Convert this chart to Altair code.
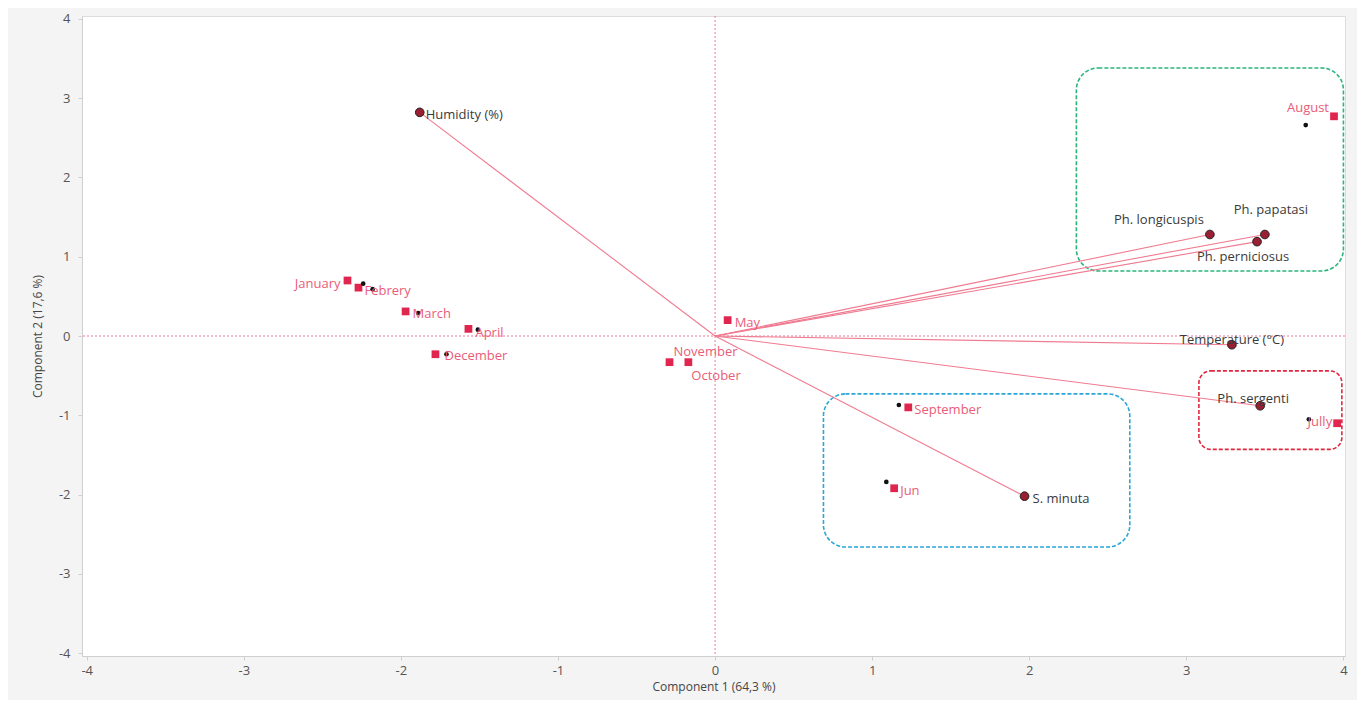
import altair as alt
import pandas as pd

# ---- data ----
var_names = ["Humidity (%)", "Ph. longicuspis", "Ph. papatasi", "Ph. perniciosus",
             "Temperature (°C)", "Ph. sergenti", "S. minuta"]
var_x = [-1.88, 3.15, 3.50, 3.45, 3.29, 3.47, 1.97]
var_y = [2.82, 1.28, 1.28, 1.19, -0.11, -0.88, -2.02]

month_names = ["January", "Febrery", "March", "April", "May", "Jun", "Jully",
               "August", "September", "October", "November", "December"]
month_x = [-2.34, -2.27, -1.97, -1.57, 0.08, 1.14, 3.96, 3.94, 1.23, -0.17, -0.29, -1.78]
month_y = [0.70, 0.61, 0.31, 0.09, 0.20, -1.92, -1.10, 2.77, -0.90, -0.33, -0.33, -0.23]

dot_names = ["January", "Febrery", "March", "April", "December", "September", "Jun", "August", "Jully"]
dot_x = [-2.24, -2.18, -1.89, -1.51, -1.71, 1.17, 1.09, 3.76, 3.78]
dot_y = [0.66, 0.59, 0.29, 0.08, -0.23, -0.87, -1.84, 2.66, -1.05]

box_names = ["green", "blue", "red"]
box_x0 = [2.30, 0.69, 3.08]
box_x1 = [4.00, 2.64, 3.99]
box_y0 = [0.82, -2.66, -1.43]
box_y1 = [3.38, -0.73, -0.44]

x_ticks = [-4, -3, -2, -1, 0, 1, 2, 3, 4]
y_ticks = [-4, -3, -2, -1, 0, 1, 2, 3, 4]

# ---- styles ----
FONT = "Open Sans"
box_style = {"green": ("#2bb57c", 22), "blue": ("#2aa7d8", 22), "red": ("#e0283f", 12)}
# label placement: align, dx, dy (pixels)
label_place = {
    "Humidity (%)": ("left", 6, 3),
    "Ph. longicuspis": ("center", -51, -14),
    "Ph. papatasi": ("center", 6, -24),
    "Ph. perniciosus": ("center", -14, 15),
    "Temperature (°C)": ("center", 0, -5),
    "Ph. sergenti": ("center", -7, -7),
    "S. minuta": ("left", 8, 3),
    "January": ("right", -7, 4),
    "Febrery": ("left", 6, 3),
    "March": ("left", 7, 3),
    "April": ("left", 7, 4),
    "December": ("left", 9, 2),
    "May": ("left", 7, 3),
    "November": ("left", 4, -10),
    "October": ("left", 3, 14),
    "September": ("left", 6, 3),
    "Jun": ("left", 6, 3),
    "August": ("right", -5, -8),
    "Jully": ("right", -5, -1),
}

xdom = [-4.03, 4.01]
ydom = [-4.035, 4.035]
xs = alt.Scale(domain=xdom, nice=False, zero=False)
ys = alt.Scale(domain=ydom, nice=False, zero=False)

xax = alt.Axis(values=x_ticks, grid=False, title="Component 1  (64,3 %)", titleFontWeight="normal",
               titleFont=FONT, titleFontSize=12, titleColor="#444", labelFont=FONT, labelFontSize=13,
               labelColor="#555", domainColor="#cfcfcf", tickColor="#cfcfcf", tickSize=4,
               labelPadding=4, titlePadding=4, labelExpr="'' + datum.value")
yax = alt.Axis(values=y_ticks, grid=False, title="Component 2  (17,6 %)", titleFontWeight="normal",
               titleFont=FONT, titleFontSize=12, titleColor="#444", labelFont=FONT, labelFontSize=13,
               labelColor="#555", domainColor="#cfcfcf", tickColor="#cfcfcf", tickSize=4,
               labelPadding=8, titlePadding=14, labelExpr="'' + datum.value")

var_df = pd.DataFrame({"name": var_names, "x": var_x, "y": var_y, "ox": 0.0, "oy": 0.0})
month_df = pd.DataFrame({"name": month_names, "x": month_x, "y": month_y})
dot_df = pd.DataFrame({"name": dot_names, "x": dot_x, "y": dot_y})
box_df = pd.DataFrame({"name": box_names, "x0": box_x0, "x1": box_x1, "y0": box_y0, "y1": box_y1})
zero_df = pd.DataFrame({"v": [0.0]})

layers = []

# zero reference lines
layers.append(alt.Chart(zero_df).mark_rule(color="#f07a90", strokeDash=[2, 2], strokeWidth=1).encode(
    x=alt.X("v:Q", scale=xs, axis=xax)))
layers.append(alt.Chart(zero_df).mark_rule(color="#f07a90", strokeDash=[2, 2], strokeWidth=1).encode(
    y=alt.Y("v:Q", scale=ys, axis=yax)))

# boxes
for b in box_names:
    col, rad = box_style[b]
    layers.append(alt.Chart(box_df).transform_filter(alt.datum.name == b).mark_rect(
        fill=None, fillOpacity=0, stroke=col, strokeWidth=1.6, strokeDash=[4, 2], cornerRadius=rad
    ).encode(x=alt.X("x0:Q", scale=xs), x2="x1:Q", y=alt.Y("y0:Q", scale=ys), y2="y1:Q"))

# loading vectors
layers.append(alt.Chart(var_df).mark_rule(color="#f07a90", strokeWidth=1.1).encode(
    x=alt.X("ox:Q", scale=xs), y=alt.Y("oy:Q", scale=ys), x2="x:Q", y2="y:Q"))

# month squares
layers.append(alt.Chart(month_df).mark_point(shape="square", filled=True, color="#e0264f", size=60, opacity=1).encode(
    x=alt.X("x:Q", scale=xs), y=alt.Y("y:Q", scale=ys)))

# black dots
layers.append(alt.Chart(dot_df).mark_circle(color="#111111", size=22, opacity=1).encode(
    x=alt.X("x:Q", scale=xs), y=alt.Y("y:Q", scale=ys)))

# variable points
layers.append(alt.Chart(var_df).mark_point(shape="circle", filled=True, fill="#9b1f33", stroke="#222",
                                           strokeWidth=1, size=75, opacity=1).encode(
    x=alt.X("x:Q", scale=xs), y=alt.Y("y:Q", scale=ys)))

# labels
for nm in var_names:
    al, dx, dy = label_place[nm]
    layers.append(alt.Chart(var_df).transform_filter(alt.datum.name == nm).mark_text(
        align=al, baseline="middle", dx=dx, dy=dy, font=FONT, fontSize=13, color="#3a3a3a"
    ).encode(x=alt.X("x:Q", scale=xs), y=alt.Y("y:Q", scale=ys), text="name:N"))
for nm in month_names:
    al, dx, dy = label_place[nm]
    layers.append(alt.Chart(month_df).transform_filter(alt.datum.name == nm).mark_text(
        align=al, baseline="middle", dx=dx, dy=dy, font=FONT, fontSize=13, color="#ea5c78"
    ).encode(x=alt.X("x:Q", scale=xs), y=alt.Y("y:Q", scale=ys), text="name:N"))

chart = alt.layer(*layers).properties(
    width=1263, height=640,
    autosize=alt.AutoSizeParams(type="none"),
    padding={"left": 74, "top": 8, "right": 12, "bottom": 44},
    background="#f4f4f4",
).configure_view(stroke="#dcdcdc", fill="white")

chart.save("out.html", embed_options={"renderer": "svg", "actions": False})
